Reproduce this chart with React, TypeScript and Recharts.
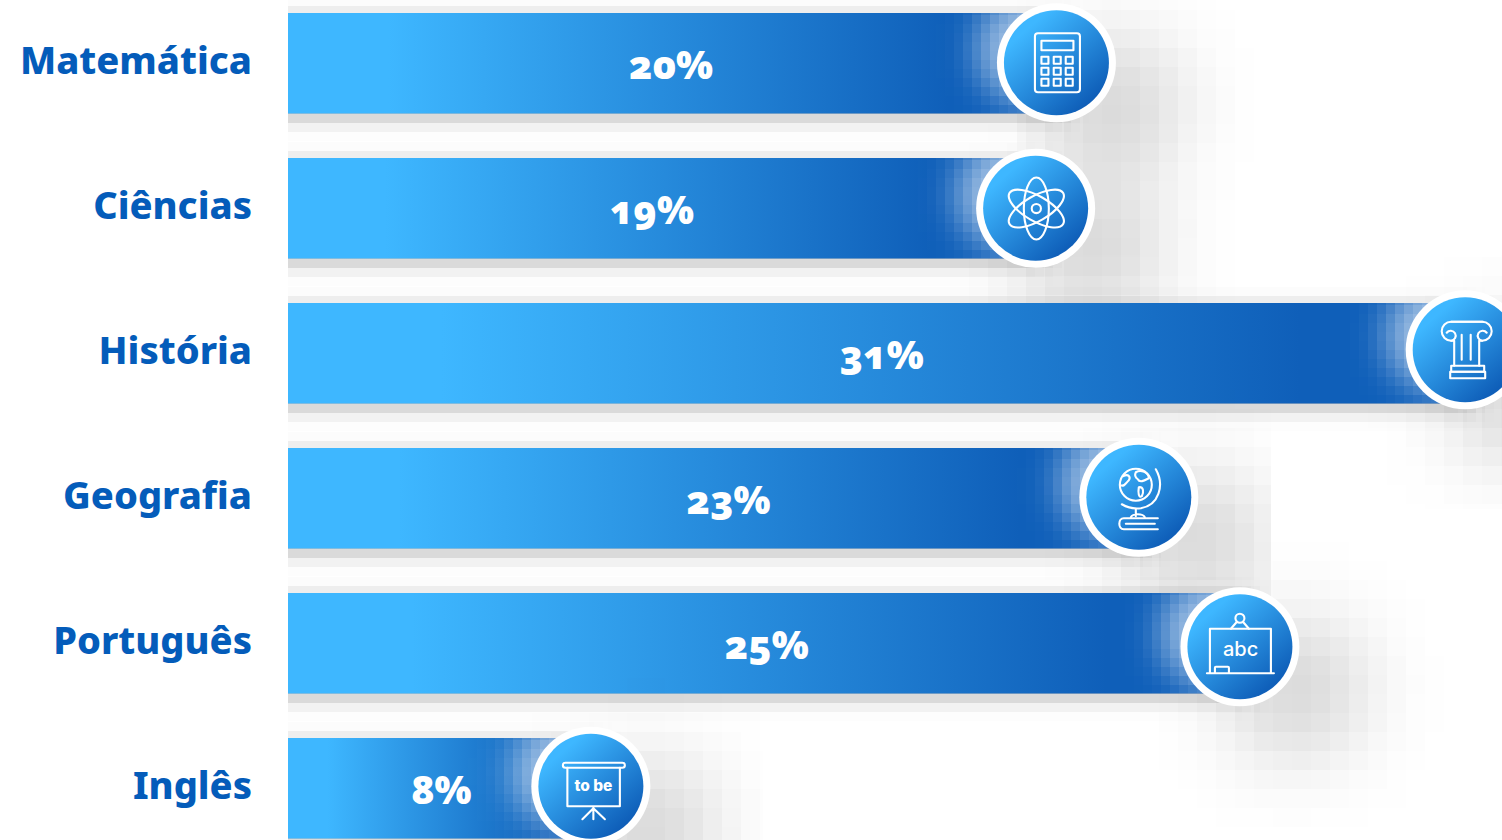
import React from "react";
import { BarChart, Bar, XAxis, YAxis, LabelList } from "recharts";

const subjects = ["Matemática", "Ciências", "História", "Geografia", "Português", "Inglês"];
const shares = [20, 19, 31, 23, 25, 8];
const chartData = subjects.map((name, i) => ({ name, share: shares[i] }));

// badge centre relative to the end of each bar (decoration, not data)
const badgeDx = [2.5, 20, -10, -30, -5.5, -3.5];
const badgeDy = [-0.5, 0, -3.5, -1, 3.5, -2];

const LIGHT = "#3EB7FF";
const DARK = "#0F5FB9";
const LABEL = "#045CBA";
const BODY = "'Noto Sans', sans-serif";

const s = { fill: "none", stroke: "#fff", strokeWidth: 2.1, strokeLinecap: "round", strokeLinejoin: "round" } as const;

const Calculator = () => (
  <g {...s}>
    <rect x={-21.5} y={-29.5} width={45} height={59} rx={3} />
    <rect x={-15} y={-22} width={32} height={9.5} />
    {[-11.5, 0.8, 12.8].flatMap((x) =>
      [-2.5, 8.5, 19.5].map((y) => <rect key={`${x}${y}`} x={x - 3.5} y={y - 3.5} width={7} height={7} />)
    )}
  </g>
);
const Atom = () => (
  <g {...s} transform="translate(0.7 0.3)">
    <ellipse rx={12.5} ry={31} />
    <ellipse rx={12.5} ry={31} transform="rotate(60)" />
    <ellipse rx={12.5} ry={31} transform="rotate(-60)" />
    <circle r={4.6} />
  </g>
);
const Column = () => (
  <g {...s} transform="translate(1 0)">
    <path d="M17 -28 H-15 A9.5 9.5 0 1 0 -15 -9 A5 5 0 1 0 -19.5 -17" />
    <path d="M-15 -28 H16 A9.5 9.5 0 1 1 16 -9 A5 5 0 1 1 20.5 -17" />
    <path d="M-15 -9 H-12 V16 M16 -9 H13 V16 M-4.5 -15 V10 M4.5 -15 V10" />
    <rect x={-15} y={16} width={33} height={6} />
    <rect x={-16} y={22} width={35} height={6.5} />
  </g>
);
const Globe = () => (
  <g {...s}>
    <circle cx={-3} cy={-12.5} r={16} />
    <path d="M17 -28 C26 -12 20 8 2 11 C-6 12 -12 10 -17 7" />
    <path d="M-3 12 V19 M-8 20 C-6 16 4 16 6 20" />
    <path d="M19 32 H-15 C-21 32 -21 21 -15 21 H19 M-13 26.5 H16" />
    <path d="M-16 -21 C-10 -24 -8 -20 -10 -17 C-13 -14 -15 -10 -18 -12 M-3 -25 C2 -28 10 -25 10 -19 C6 -17 1 -14 -1 -18 C-4 -20 -4 -23 -3 -25 M0 -10 C5 -11 5 -5 3 -1 C0 1 -1 -4 0 -10" />
  </g>
);
const Board = () => (
  <g {...s}>
    <path d="M-30 26 V-18 H31 V26 M-33 26.5 H34" />
    <circle cx={0} cy={-28.5} r={4.5} />
    <path d="M-3 -25 L-9 -18 M3 -25 L9 -18" />
    <path d="M-25 26 V21 Q-25 20 -24 20 H-12 Q-11 20 -11 21 V26" />
    <text x={0.7} y={9.5} textAnchor="middle" fontFamily="Inter, sans-serif" fontSize={20} fontWeight={500} fill="#fff" stroke="none">abc</text>
  </g>
);
const Screen = () => (
  <g {...s}>
    <rect x={-28} y={-23.5} width={62} height={5} rx={2.5} />
    <path d="M-23.5 -18.5 V20 H29 V-18.5 M2.5 20 V33 M-8.5 33 L2.5 22 L14 33" />
    <text x={2.5} y={4.5} textAnchor="middle" fontFamily="Inter, sans-serif" fontSize={15.5} fontWeight={800} fill="#fff" stroke="none">to be</text>
  </g>
);
const icons = [Calculator, Atom, Column, Globe, Board, Screen];

const pixelFilter = (id: string, cell: number, ox = 0, oy = 0) => {
  const r = Math.floor(cell / 2);
  return (
    <filter id={id} filterUnits="userSpaceOnUse" primitiveUnits="userSpaceOnUse" x={ox} y={oy} width={1530} height={900}>
      <feFlood x={ox + r} y={oy + r} width={1} height={1} />
      <feComposite x={ox} y={oy} width={cell} height={cell} />
      <feTile result="grid" />
      <feComposite in="SourceGraphic" in2="grid" operator="in" />
      <feMorphology operator="dilate" radius={r} />
    </filter>
  );
};
const blurFilter = (id: string, std: number) => (
  <filter id={id} filterUnits="userSpaceOnUse" x={-200} y={-200} width={2000} height={1300}>
    <feGaussianBlur stdDeviation={std} />
  </filter>
);

const BarShape = (p: any) => {
  const { x, y, width, height, index } = p;
  const cx = x + width + badgeDx[index];
  const cy = y + height / 2 + badgeDy[index];
  const Icon = icons[index];
  const clipBelow = `clip-shadow-${index}`;
  const clipBar = `clip-bar-${index}`;
  const pix = `pix-${index}`;
  const oy = (Math.round(y + height) % 9) - 9;
  return (
    <g>
      <defs>
        {pixelFilter(pix, 9, 0, oy)}
        <clipPath id={clipBelow}>
          <rect x={x} y={y - 60} width={1502 - x} height={height + 400} />
        </clipPath>
        <clipPath id={clipBar}>
          <rect x={x} y={y} width={cx - x} height={height} />
        </clipPath>
      </defs>
      <g clipPath={`url(#${clipBelow})`}>
        <g filter="url(#pixLarge)">
          <circle cx={cx + 55} cy={cy + 42} r={66} fill="#000" fillOpacity={0.19} filter="url(#blurLarge)" />
        </g>
        <g filter={`url(#${pix})`}>
          <rect x={x - 30} y={y + 5} width={cx - x + 40} height={height} fill="#000" fillOpacity={0.29} filter="url(#blurSmall)" />
        </g>
      </g>
      <rect x={x} y={y} width={cx - x} height={height} fill="url(#barFill)" />
      <g clipPath={`url(#${clipBar})`}>
        <g filter={`url(#${pix})`}>
          <circle cx={cx - 22} cy={cy - 14} r={56} fill="#fff" fillOpacity={0.62} filter="url(#blurHalo)" />
        </g>
      </g>
      <circle cx={cx} cy={cy} r={59.5} fill="#fff" />
      <circle cx={cx} cy={cy} r={52.5} fill="url(#badgeFill)" />
      <g transform={`translate(${cx} ${cy})`}>
        <Icon />
      </g>
    </g>
  );
};

const SubjectTick = (p: any) => (
  <text x={p.x} y={p.y} dy={10} textAnchor="end" fontFamily={BODY} fontWeight={800} fontSize={38} fill={LABEL}>
    {p.payload.value}
  </text>
);

export default function App() {
  return (
    <div style={{ position: "fixed", left: 0, top: 0, width: 1502, height: 840, overflow: "hidden", background: "#fff" }}>
      <div style={{ position: "absolute", left: 0, top: -9 }}>
        <BarChart width={1502} height={870} data={chartData} layout="vertical" margin={{ top: 0, right: 0, bottom: 0, left: 0 }} barSize={100.5}>
          <defs>
            <linearGradient id="barFill" x1="0" y1="0" x2="1" y2="0">
              <stop offset="0.13" stopColor={LIGHT} />
              <stop offset="0.86" stopColor={DARK} />
            </linearGradient>
            <linearGradient id="badgeFill" x1="0.15" y1="0.1" x2="0.85" y2="0.9">
              <stop offset="0.1" stopColor={LIGHT} />
              <stop offset="0.95" stopColor={DARK} />
            </linearGradient>
            {pixelFilter("pixLarge", 19)}
            {blurFilter("blurSmall", 10)}
            {blurFilter("blurLarge", 42)}
            {blurFilter("blurHalo", 18)}
          </defs>
          <XAxis type="number" hide domain={[0, 31.7]} />
          <YAxis type="category" dataKey="name" width={288} axisLine={false} tickLine={false} tickSize={0} tickMargin={36} tick={SubjectTick} interval={0} />
          <Bar dataKey="share" shape={BarShape} isAnimationActive={false}>
            <LabelList
              dataKey="share"
              position="center"
              formatter={(v: number) => `${v}%`}
              fill="#fff"
              dy={2}
              style={{ fontFamily: BODY, fontWeight: 900, fontSize: 39, fontFeatureSettings: "'onum' 1" }}
            />
          </Bar>
        </BarChart>
      </div>
    </div>
  );
}
